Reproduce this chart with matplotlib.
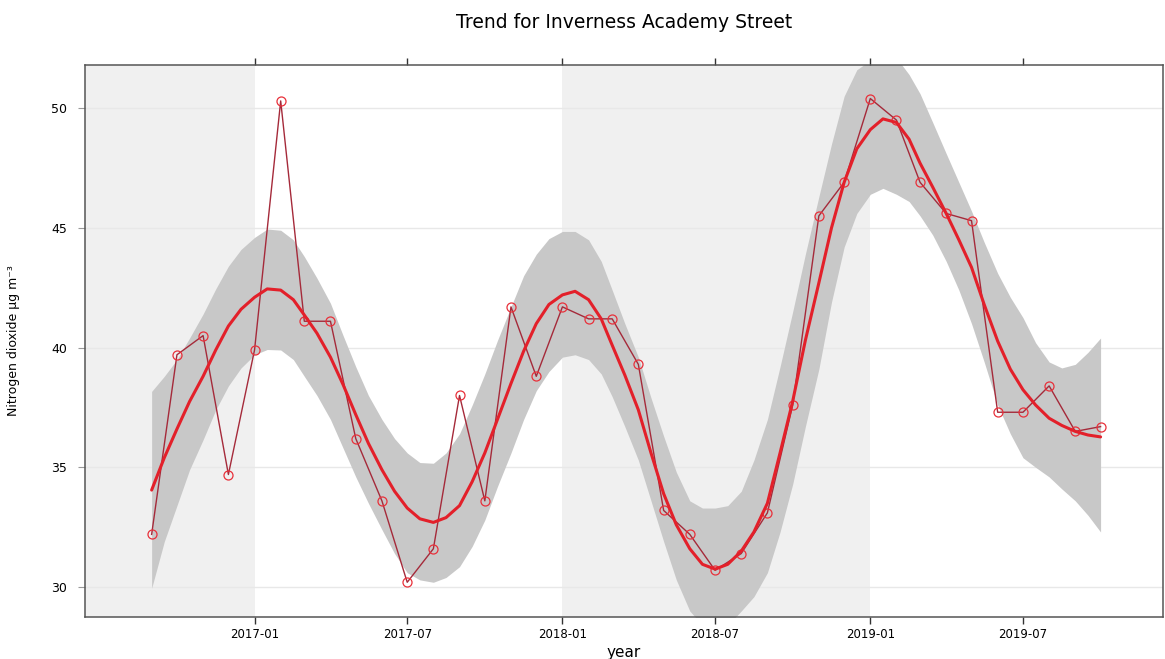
import datetime as dt
import matplotlib
matplotlib.use("Agg")
import matplotlib.pyplot as plt
import matplotlib.dates as mdates

# ---------------- data ----------------
# monthly means, Sep 2016 .. Oct 2019
no2_monthly = [32.2, 39.7, 40.5, 34.7, 39.9, 50.3, 41.1, 41.1, 36.2, 33.6,
               30.2, 31.6, 38.0, 33.6, 41.7, 38.8, 41.7, 41.2, 41.2, 39.3,
               33.2, 32.2, 30.7, 31.4, 33.1, 37.6, 45.5, 46.9, 50.4, 49.5,
               46.9, 45.6, 45.3, 37.3, 37.3, 38.4, 36.5, 36.7]

# smooth trend and its band, read at the 1st and 16th of each month
trend = [34.05, 35.4, 36.6, 37.75, 38.8, 39.9, 40.9, 41.6, 42.1, 42.45,
         42.4, 42.0, 41.36, 40.6, 39.6, 38.45, 37.2, 36.0, 34.9, 34.0,
         33.3, 32.85, 32.7, 32.9, 33.4, 34.4, 35.6, 37.0, 38.5, 39.85,
         41.0, 41.8, 42.2, 42.35, 42.0, 41.2, 40.1, 38.85, 37.4, 35.6,
         33.9, 32.6, 31.6, 30.95, 30.75, 30.95, 31.5, 32.3, 33.5, 35.6,
         37.76, 40.3, 42.7, 45.0, 46.9, 48.3, 49.1, 49.55, 49.4, 48.7,
         47.7, 46.7, 45.6, 44.5, 43.35, 41.8, 40.27, 39.1, 38.24, 37.6,
         37.05, 36.75, 36.5, 36.35, 36.27]

trend_upper = [38.17, 38.8, 39.5, 40.4, 41.4, 42.45, 43.4, 44.1, 44.6, 44.95,
               44.9, 44.5, 43.8, 42.9, 41.85, 40.5, 39.2, 38.0, 37.0, 36.2,
               35.6, 35.2, 35.17, 35.6, 36.4, 37.6, 38.9, 40.3, 41.7, 43.0,
               43.9, 44.55, 44.85, 44.85, 44.5, 43.6, 42.4, 41.0, 39.6, 37.9,
               36.3, 34.8, 33.6, 33.3, 33.3, 33.4, 34.0, 35.3, 37.0, 39.2,
               41.5, 43.9, 46.3, 48.5, 50.5, 51.6, 52.0, 52.3, 52.1, 51.4,
               50.6, 49.4, 48.1, 46.9, 45.7, 44.4, 43.1, 42.1, 41.25, 40.2,
               39.4, 39.15, 39.3, 39.8, 40.4]

trend_lower = [29.95, 31.9, 33.4, 34.9, 36.15, 37.4, 38.4, 39.15, 39.7, 39.92,
               39.9, 39.5, 38.8, 38.0, 37.0, 35.8, 34.6, 33.5, 32.4, 31.4,
               30.6, 30.3, 30.2, 30.4, 30.85, 31.7, 32.8, 34.2, 35.6, 37.0,
               38.2, 39.0, 39.6, 39.7, 39.5, 38.9, 37.95, 36.7, 35.3, 33.6,
               31.9, 30.3, 29.0, 28.4, 28.1, 28.4, 29.0, 29.6, 30.6, 32.3,
               34.3, 36.7, 39.1, 41.9, 44.2, 45.6, 46.4, 46.65, 46.4, 46.1,
               45.5, 44.7, 43.6, 42.4, 41.0, 39.4, 37.6, 36.4, 35.4, 35.0,
               34.6, 34.1, 33.6, 33.0, 32.3]

tick_dates = [dt.datetime(2017, 1, 1), dt.datetime(2017, 7, 1),
              dt.datetime(2018, 1, 1), dt.datetime(2018, 7, 1),
              dt.datetime(2019, 1, 1), dt.datetime(2019, 7, 1)]
y_ticks = [30, 35, 40, 45, 50]
shaded_years = [(dt.datetime(2016, 1, 1), dt.datetime(2017, 1, 1)),
                (dt.datetime(2018, 1, 1), dt.datetime(2019, 1, 1))]

title = "Trend for Inverness Academy Street"
ylabel = "Nitrogen dioxide µg m⁻³"
xlabel = "year"

# ---------------- dates ----------------
months = []
y, m = 2016, 9
for _ in range(len(no2_monthly)):
    months.append(dt.datetime(y, m, 1))
    m += 1
    if m > 12:
        m, y = 1, y + 1

trend_dates = []
for d in months:
    trend_dates.append(d)
    if len(trend_dates) < len(trend):
        trend_dates.append(d.replace(day=16))

# ---------------- figure ----------------
plt.rcParams['font.family'] = ['DejaVu Sans']
fig = plt.figure(figsize=(11.65, 6.59), dpi=100)
ax = fig.add_axes([85 / 1165, 42 / 659, 1078 / 1165, 552 / 659])

ax.set_xlim(dt.datetime(2016, 6, 14), dt.datetime(2019, 12, 14))
ax.set_ylim(28.75, 51.8)

ax.set_facecolor('white')
for a, b in shaded_years:
    ax.axvspan(a, b, color='#f0f0f0', lw=0, zorder=0)

for v in y_ticks:
    ax.axhline(v, color='#e8e8e8', lw=1.0, zorder=0.5)

ax.fill_between(trend_dates, trend_lower, trend_upper, color='#c8c8c8', lw=0, zorder=1)

ax.plot(months, no2_monthly, color='#a52a3a', lw=1.0, zorder=2)
ax.plot(months, no2_monthly, ls='none', marker='o', ms=6.5, mfc='none',
        mec='#e8303a', mew=0.9, zorder=3)

ax.plot(trend_dates, trend, color='#e3202a', lw=2.2, zorder=4,
        solid_capstyle='round', solid_joinstyle='round')

ax.set_xticks(tick_dates)
ax.xaxis.set_major_formatter(mdates.DateFormatter('%Y-%m'))
ax.set_yticks(y_ticks)

ax.tick_params(axis='x', which='both', direction='out', length=5, width=1,
               color='#333333', labelsize=8.5, pad=3, top=True, bottom=True)
ax.tick_params(axis='y', which='both', direction='out', length=5, width=0.8,
               color='#999999', labelsize=9, pad=8, left=True, right=False)

for s in ax.spines.values():
    s.set_color('#555555')
    s.set_linewidth(1.1)

fig.text(624 / 1165, 1 - 22 / 659, title, ha='center', va='center', fontsize=13.5)
ax.set_ylabel(ylabel, fontsize=9)
ax.yaxis.set_label_coords(-(85 - 20) / 1078, 0.5)
ax.set_xlabel(xlabel, fontsize=11)
ax.xaxis.set_label_coords(0.5, -(652 - 617) / 552)
ax.xaxis.label.set_va('center')

fig.savefig('out.png', dpi=100)
